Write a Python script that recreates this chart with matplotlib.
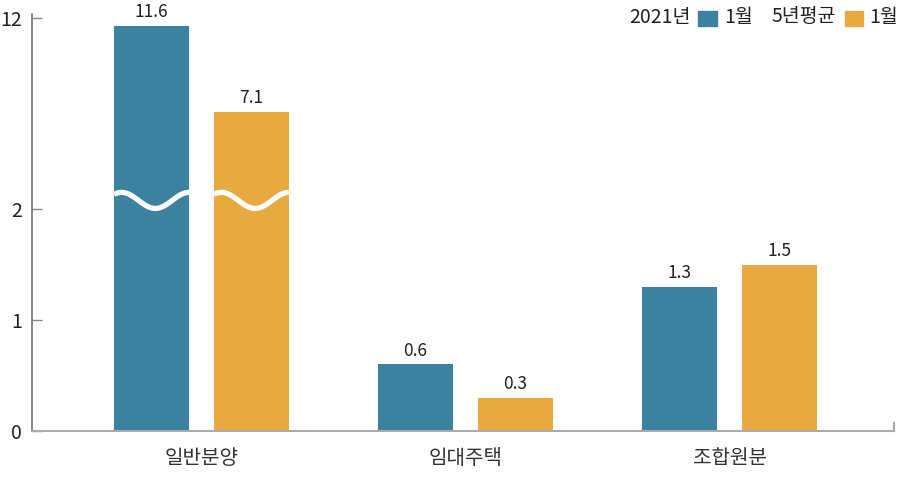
import numpy as np
import matplotlib.pyplot as plt
from matplotlib.patches import Rectangle

plt.rcParams['font.family'] = ['Noto Sans CJK KR', 'DejaVu Sans']

categories = ["일반분양", "임대주택", "조합원분"]
jan_2021 = [11.6, 0.6, 1.3]
avg_5yr = [7.1, 0.3, 1.5]
yticks = [0, 1, 2, 12]

BLUE = "#3B82A0"
ORANGE = "#E8AA3E"
TXT = "#231F20"

# broken axis: linear up to 2, compressed above
BREAK = 2.0
K = 19.1 / 111


def fwd(v):
    v = np.asarray(v, dtype=float)
    return np.where(v <= BREAK, v, BREAK + (v - BREAK) * K)


def inv(u):
    u = np.asarray(u, dtype=float)
    return np.where(u <= BREAK, u, BREAK + (u - BREAK) / K)


W, H = 900, 484
fig = plt.figure(figsize=(W / 100, H / 100), dpi=100)
ax = fig.add_axes([32 / W, (H - 431) / H, (894 - 32) / W, (431 - 14) / H])
ax.set_yscale('function', functions=(fwd, inv))

x = np.arange(len(categories))
bw = 0.284
off = 0.189
b1 = ax.bar(x - off, jan_2021, bw, color=BLUE, zorder=2)
b2 = ax.bar(x + off, avg_5yr, bw, color=ORANGE, zorder=2)

for bars, vals in ((b1, jan_2021), (b2, avg_5yr)):
    for rect, v in zip(bars, vals):
        cx = rect.get_x() + rect.get_width() / 2
        ax.annotate(f"{v}", (cx, v), xytext=(0, 3.5), textcoords='offset points',
                    ha='center', va='bottom', fontsize=12.5, color=TXT)
        if v > BREAK:
            # wavy break mark
            t = np.linspace(0, 1, 80)
            xs = rect.get_x() + t * rect.get_width()
            ys = 2.45 + 0.42 * np.cos(2 * np.pi * (t - 0.1) / 0.9)
            ax.plot(xs, ys, color='white', lw=3.8, solid_capstyle='butt', zorder=3)

top = BREAK + ((431 - 14) / 111 - BREAK) / K
ax.set_xlim(-0.642, 2.623)
ax.set_ylim(0, top)
ax.set_yticks(yticks)
ax.set_yticklabels([str(t) for t in yticks])
ax.tick_params(axis='y', direction='in', length=7, width=1, color='#888888',
               pad=7, labelsize=14, labelcolor=TXT)
ax.set_xticks(x)
ax.set_xticklabels(categories)
ax.tick_params(axis='x', length=0, pad=12, labelsize=14.5, labelcolor='#333333')

for s in ('top', 'right'):
    ax.spines[s].set_visible(False)
ax.spines['left'].set_color('#666666')
ax.spines['left'].set_linewidth(1.1)
ax.spines['bottom'].set_color('#AAAAAA')
ax.spines['bottom'].set_linewidth(1.5)
ax.plot([1, 1], [0, 0.02], transform=ax.transAxes, color='#AAAAAA', lw=1.5, clip_on=False)

# legend
ly = 1 - 17 / H
fig.text(629 / W, ly, "2021년", ha='left', va='center', fontsize=14, color=TXT)
fig.patches.append(Rectangle((698 / W, (H - 26) / H), 19 / W, 15 / H,
                             transform=fig.transFigure, color=BLUE))
fig.text(724 / W, ly, "1월", ha='left', va='center', fontsize=14, color=TXT)
fig.text(772 / W, ly, "5년평균", ha='left', va='center', fontsize=14, color=TXT)
fig.patches.append(Rectangle((845 / W, (H - 26) / H), 18 / W, 15 / H,
                             transform=fig.transFigure, color=ORANGE))
fig.text(869 / W, ly, "1월", ha='left', va='center', fontsize=14, color=TXT)

fig.savefig("out.png", dpi=100)
